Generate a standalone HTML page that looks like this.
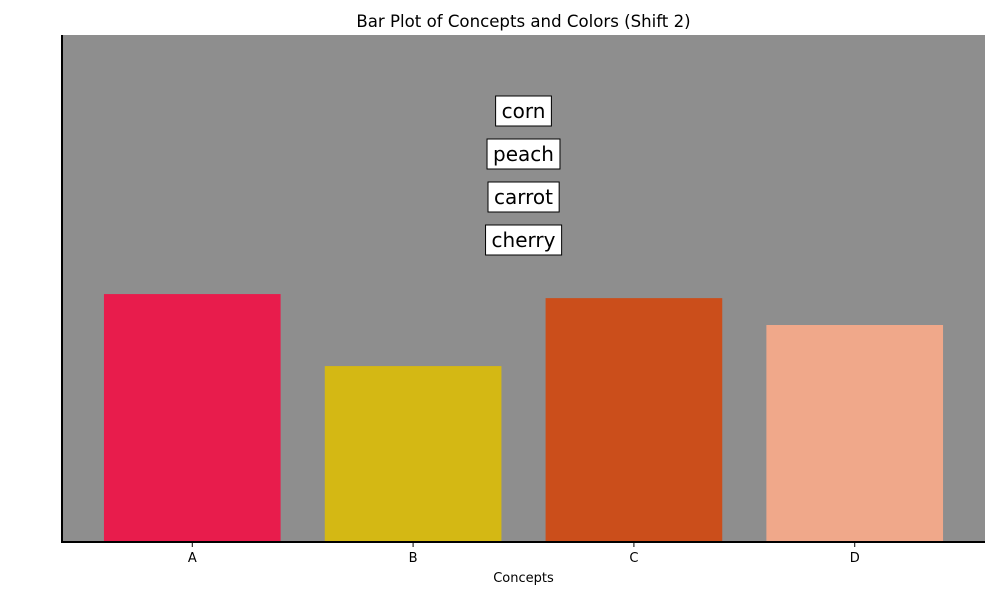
<!DOCTYPE html>
<html><head><meta charset="utf-8"><style>
body{margin:0;background:#fff;}
svg{display:block;font-family:"DejaVu Sans","Liberation Sans",sans-serif;}
</style></head><body>
<svg id="chart" width="1000" height="600">
<text x="523.5" y="27" font-size="16.6" text-anchor="middle">Bar Plot of Concepts and Colors (Shift 2)</text>
<rect x="62" y="35" width="923" height="507" fill="#8e8e8e"/>
<g id="bars"></g>
<g id="labels"></g>
<line x1="62" y1="35" x2="62" y2="543" stroke="#000" stroke-width="2"/>
<line x1="61" y1="542" x2="985" y2="542" stroke="#000" stroke-width="2"/>
<g id="xticks"></g>
<text x="523.5" y="582" font-size="13" text-anchor="middle">Concepts</text>
</svg>
<script>
const categories = ["A","B","C","D"];
const values = [0.489, 0.347, 0.481, 0.428];
const colors = ["#e81c4c","#d4b814","#cb4e1b","#f0a88a"];
const concepts = ["corn","peach","carrot","cherry"];

const NS="http://www.w3.org/2000/svg";
const L=62,R=985,T=35,B=542;
const xmin=-0.59,xmax=3.59,ymax=1.0;
const xs=v=>L+(v-xmin)/(xmax-xmin)*(R-L);
const ys=v=>B-v/ymax*(B-T);
const bw=(xs(0.4)-xs(-0.4));
const bars=document.getElementById('bars');
const ticks=document.getElementById('xticks');
categories.forEach((c,i)=>{
  const r=document.createElementNS(NS,'rect');
  r.setAttribute('x',xs(i)-bw/2);r.setAttribute('width',bw);
  r.setAttribute('y',ys(values[i]));r.setAttribute('height',B-ys(values[i]));
  r.setAttribute('fill',colors[i]);
  
  
  bars.appendChild(r);
  const tk=document.createElementNS(NS,'line');
  tk.setAttribute('x1',xs(i));tk.setAttribute('x2',xs(i));tk.setAttribute('y1',B);tk.setAttribute('y2',B+5);
  tk.setAttribute('stroke','#000');
  
  
  ticks.appendChild(tk);
  const t=document.createElementNS(NS,'text');
  t.setAttribute('x',xs(i));t.setAttribute('y',562);t.setAttribute('font-size','13');t.setAttribute('text-anchor','middle');
  t.textContent=c;
  
  
  ticks.appendChild(t);
});
const lab=document.getElementById('labels');
concepts.forEach((w,i)=>{
  const cy=111+i*43;
  const g=document.createElementNS(NS,'g');
  
  
  const t=document.createElementNS(NS,'text');
  t.setAttribute('x',523.5);t.setAttribute('y',cy+7);t.setAttribute('font-size','20');t.setAttribute('text-anchor','middle');
  t.textContent=w;
  const r=document.createElementNS(NS,'rect');
  g.appendChild(r);g.appendChild(t);lab.appendChild(g);
  const bb=t.getBBox();
  r.setAttribute('x',bb.x-6);r.setAttribute('y',cy-15);r.setAttribute('width',bb.width+12);r.setAttribute('height',30);
  r.setAttribute('fill','#fff');r.setAttribute('stroke','#000');
});
</script>
</body></html>
